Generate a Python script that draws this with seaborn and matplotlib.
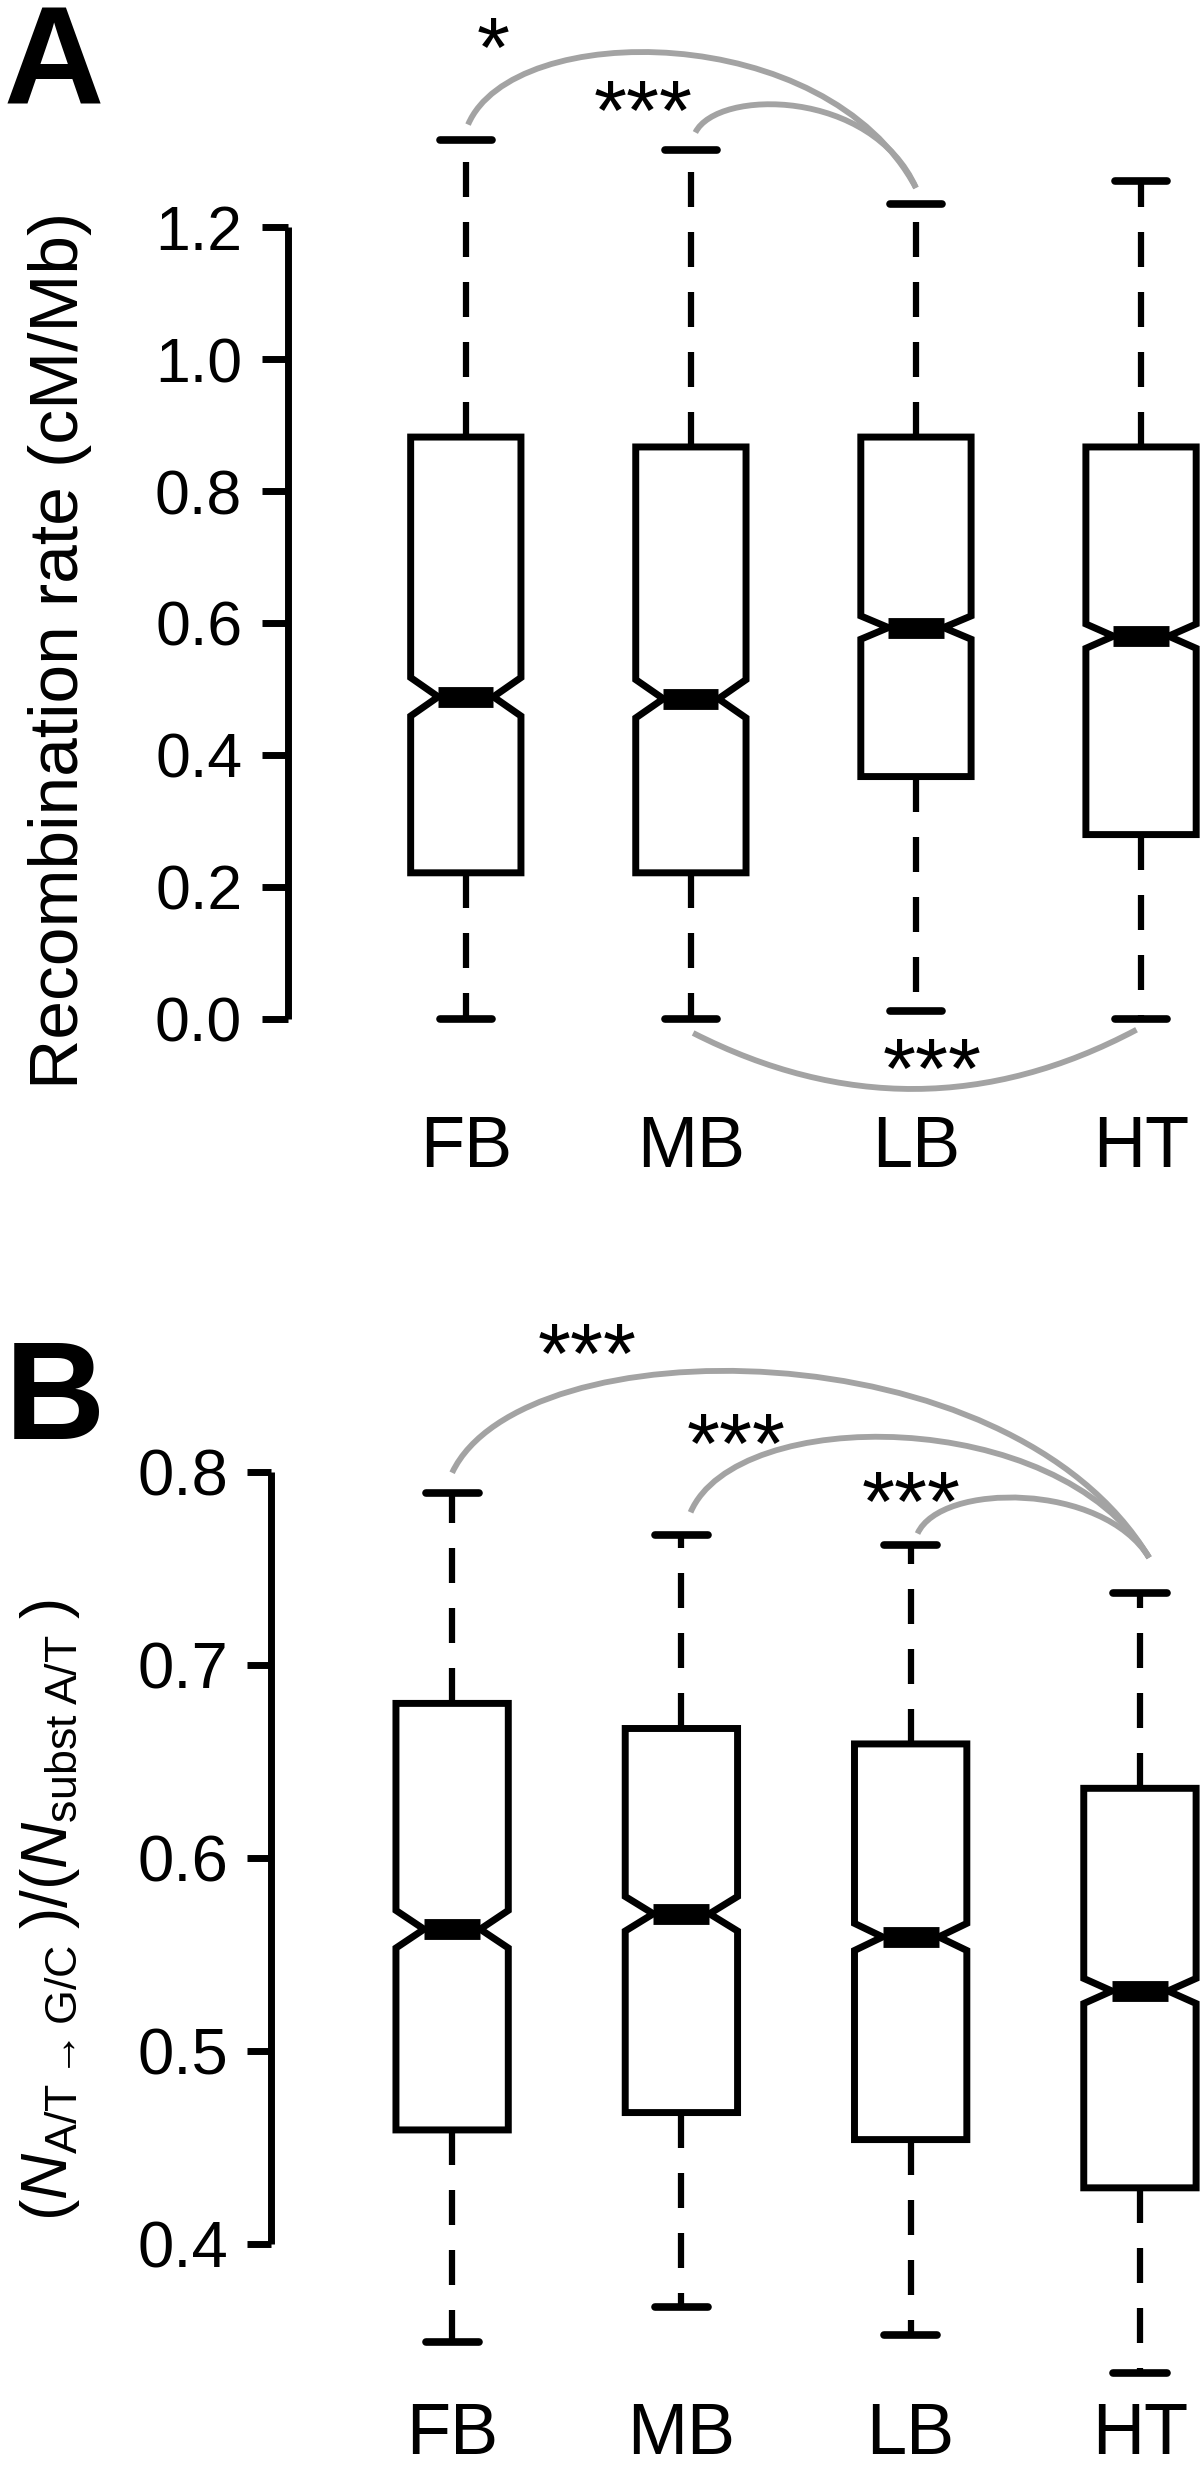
import numpy as np
import pandas as pd
import seaborn as sns
import matplotlib.pyplot as plt
from matplotlib.path import Path
from matplotlib.patches import PathPatch

# stages and (estimated) number of genes per stage, read from the notch widths
stages = ['FB', 'MB', 'LB', 'HT']
n_genes = [1270, 1220, 2100, 2500]

# panel A: recombination rate (cM/Mb), five-number summary per stage
rec_lo = [0.0, 0.0, 0.012, 0.0]
rec_q1 = [0.221, 0.221, 0.367, 0.279]
rec_med = [0.488, 0.485, 0.593, 0.580]
rec_q3 = [0.882, 0.867, 0.882, 0.867]
rec_hi = [1.333, 1.317, 1.235, 1.271]
rec_ticks = [0.0, 0.2, 0.4, 0.6, 0.8, 1.0, 1.2]

# panel B: A/T -> G/C substitutions over all A/T substitutions
gc_lo = [0.349, 0.367, 0.353, 0.333]
gc_q1 = [0.459, 0.468, 0.454, 0.429]
gc_med = [0.563, 0.571, 0.559, 0.531]
gc_q3 = [0.680, 0.667, 0.659, 0.636]
gc_hi = [0.789, 0.767, 0.762, 0.737]
gc_ticks = [0.4, 0.5, 0.6, 0.7, 0.8]

# significance arcs: x0, y0, x1, y1, control height, control lean, label, label pos
top = (0.1, 0.2)
arcs_a = [
    (0.01, 1.356, 2.0, 1.26, 1.516, top, '*', (0.12, 1.489)),
    (1.02, 1.344, 2.0, 1.26, 1.411, top, '***', (0.79, 1.393)),
    (1.01, -0.022, 2.98, -0.017, -0.136, (1 / 3, 1 / 3), '***', (2.07, -0.060)),
]
arcs_b = [
    (0.0, 0.7995, 3.04, 0.7555, 0.876, top, '***', (0.59, 0.867)),
    (1.04, 0.779, 3.04, 0.7555, 0.8346, top, '***', (1.24, 0.82)),
    (2.03, 0.768, 3.04, 0.7555, 0.7947, top, '***', (2.0, 0.79)),
]

sns.set_style('ticks')
plt.rcParams['font.family'] = ['Liberation Sans', 'DejaVu Sans']
plt.rcParams['mathtext.fontset'] = 'custom'
plt.rcParams['mathtext.rm'] = 'Liberation Sans'
plt.rcParams['mathtext.it'] = 'Liberation Sans:italic'
plt.rcParams['mathtext.sf'] = 'Liberation Sans'
for key in ['axes.edgecolor', 'xtick.color', 'ytick.color', 'text.color', 'axes.labelcolor']:
    plt.rcParams[key] = 'black'


def long_table(lo, q1, med, q3, hi):
    # expand the summary into a sample with the same quartiles and size
    parts = []
    for s, n, a, b, c, d, e in zip(stages, n_genes, lo, q1, med, q3, hi):
        m = (n - 2) // 3
        vals = [a] + [b] * m + [c] * m + [d] * m + [e]
        parts.append(pd.DataFrame({'stage': s, 'value': vals}))
    return pd.concat(parts, ignore_index=True)


def draw_boxes(ax, df):
    sns.boxplot(data=df, x='stage', y='value', order=stages, ax=ax,
                notch=True, whis=(0, 100), width=0.49, color='white',
                linecolor='black', showfliers=False,
                boxprops=dict(linewidth=5),
                medianprops=dict(linewidth=15, solid_capstyle='butt'),
                whiskerprops=dict(linewidth=4.5, linestyle=(0, (5.6, 4.0))),
                capprops=dict(linewidth=5.5, solid_capstyle='round'),
                capwidths=0.232)


def draw_arcs(ax, arcs):
    for x0, y0, x1, y1, yc, lean, label, (tx, ty) in arcs:
        d = x1 - x0
        verts = [(x0, y0), (x0 + lean[0] * d, yc), (x1 - lean[1] * d, yc), (x1, y1)]
        path = Path(verts, [Path.MOVETO, Path.CURVE4, Path.CURVE4, Path.CURVE4])
        ax.add_patch(PathPatch(path, fill=False, edgecolor='#a3a3a3', lw=4.2,
                               clip_on=False, capstyle='butt'))
        ax.annotate(label, (tx, ty), xytext=(0, -13), textcoords='offset points',
                    ha='center', va='center', fontsize=61, annotation_clip=False)


def style_axis(ax, ticks, ylim, tick_size, tick_len, xpad):
    ax.set_xlim(-0.79, 3.262)
    ax.set_ylim(*ylim)
    ax.set_yticks(ticks)
    ax.set_yticklabels([f'{t:.1f}' for t in ticks])
    ax.set_xlabel('')
    sns.despine(ax=ax, bottom=True)
    ax.spines['left'].set_bounds(ticks[0], ticks[-1])
    ax.spines['left'].set_linewidth(5)
    ax.spines['left'].set_capstyle('butt')
    ax.tick_params(axis='y', length=tick_len, width=5, pad=14, labelsize=tick_size)
    ax.tick_params(axis='x', length=0, pad=xpad, labelsize=52)


fig = plt.figure(figsize=(12, 24.69), dpi=100)
ax_a = fig.add_axes([288 / 1200, 1 - 1104.2 / 2469, 912 / 1200, 1100.9 / 2469])
ax_b = fig.add_axes([271 / 1200, 1 - 2398.2 / 2469, 929 / 1200, 1080.8 / 2469])

draw_boxes(ax_a, long_table(rec_lo, rec_q1, rec_med, rec_q3, rec_hi))
style_axis(ax_a, rec_ticks, (-0.13, 1.54), 45, 19, 8)
ax_a.set_ylabel('Recombination rate (cM/Mb)', fontsize=50)
ax_a.yaxis.set_label_coords(-0.2149, 0.4126)
draw_arcs(ax_a, arcs_a)

draw_boxes(ax_b, long_table(gc_lo, gc_q1, gc_med, gc_q3, gc_hi))
style_axis(ax_b, gc_ticks, (0.32, 0.88), 47, 17, 3)
ax_b.set_ylabel(r'$(\mathit{N}_{\mathrm{A/T\rightarrow G/C}}\;)/(\mathit{N}_{\mathrm{subst\;A/T}}\;)$',
                fontsize=46)
ax_b.yaxis.set_label_coords(-0.2034, 0.4517)
draw_arcs(ax_b, arcs_b)

fig.text(4 / 1200, 1 - 3 / 2469, 'A', fontsize=100, fontweight='bold', va='top', ha='left')
fig.text(5 / 1200, 1 - 1338 / 2469, 'B', fontsize=100, fontweight='bold', va='top', ha='left')

fig.savefig('out.png', dpi=100)
